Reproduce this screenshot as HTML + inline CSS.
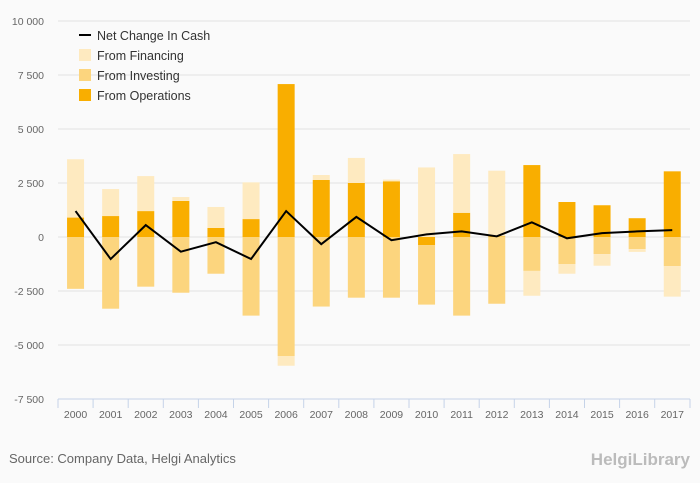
<!DOCTYPE html>
<html><head><meta charset="utf-8"><style>
body{margin:0;background:#fafafa;font-family:"Liberation Sans",sans-serif;}
svg{display:block}
</style></head><body>
<svg width="700" height="483" id="c">
<rect width="700" height="483" fill="#fafafa"/>
<g id="grid"></g><g id="bars"></g><g id="line"></g><g id="axes"></g>
<g font-size="12.5" fill="#333">
<g><rect x="79" y="34" width="12" height="2" fill="#000"/><text x="97" y="40">Net Change In Cash</text></g>
<g><rect x="79" y="49" width="12" height="12" fill="#feeac0"/><text x="97" y="60">From Financing</text></g>
<g><rect x="79" y="69" width="12" height="12" fill="#fcd57e"/><text x="97" y="80">From Investing</text></g>
<g><rect x="79" y="89" width="12" height="12" fill="#f9ae00"/><text x="97" y="100">From Operations</text></g>
</g>
<text x="9" y="463" font-size="13" fill="#666">Source: Company Data, Helgi Analytics</text>
<text x="690" y="465" font-size="17" fill="#bbb" text-anchor="end" font-weight="bold">HelgiLibrary</text>
</svg>
<script>
const years=["2000","2001","2002","2003","2004","2005","2006","2007","2008","2009","2010","2011","2012","2013","2014","2015","2016","2017"];
const operations=[900,970,1200,1670,420,830,7080,2640,2500,2580,-380,1120,30,3330,1620,1470,870,3040];
const investing=[-2400,-3320,-2300,-2580,-1700,-3640,-5510,-3220,-2810,-2810,-2750,-3640,-3090,-1570,-1250,-790,-560,-1350];
const financing=[2700,1250,1620,180,970,1700,-450,230,1160,80,3220,2720,3040,-1150,-450,-540,-130,-1410];
const netChange=[1200,-1020,550,-680,-240,-1020,1200,-330,930,-150,120,260,30,680,-60,180,260,320];
const yTicks=[-7500,-5000,-2500,0,2500,5000,7500,10000];
const yTickLabels=["-7 500","-5 000","-2 500","0","2 500","5 000","7 500","10 000"];
const NS="http://www.w3.org/2000/svg";
const X0=58,BW=35.1,Y0=237,K=21.6/1000;
const y=v=>Y0-v*K, xc=i=>X0+BW*(i+0.5);
function mk(t,a,p){const e=document.createElementNS(NS,t);for(const k in a)e.setAttribute(k,a[k]);p.appendChild(e);return e;}
const grid=document.getElementById('grid'),bars=document.getElementById('bars'),lineG=document.getElementById('line'),axes=document.getElementById('axes');
yTicks.forEach((t,i)=>{
 if(t>-7500){const l=mk('line',{x1:X0,x2:690,y1:y(t),y2:y(t),stroke:'#e2e2e2','stroke-width':1},grid);
 
 }
 const tx=mk('text',{x:44,y:y(t)+4,'font-size':10.5,fill:'#666','text-anchor':'end'},axes);tx.textContent=yTickLabels[i];
 
 
});
const series=[["operations",operations,"#f9ae00"],["investing",investing,"#fcd57e"],["financing",financing,"#feeac0"]];
years.forEach((yr,i)=>{
 let pos=0,neg=0;
 series.forEach(([nm,arr,col])=>{
  const v=arr[i];let a,b;
  if(v>=0){a=pos;b=pos+v;pos=b;}else{a=neg;b=neg+v;neg=b;}
  const r=mk('rect',{x:xc(i)-8.5,width:17,y:Math.min(y(a),y(b)),height:Math.abs(y(a)-y(b)),fill:col},bars);
  
  
 });
 const tx=mk('text',{x:xc(i),y:418,'font-size':10.5,fill:'#666','text-anchor':'middle'},axes);tx.textContent=yr;
 
 
 mk('line',{x1:X0+BW*i,x2:X0+BW*i,y1:399,y2:408,stroke:'#c5d3e8'},axes);
});
mk('line',{x1:690,x2:690,y1:399,y2:408,stroke:'#c5d3e8'},axes);
const ax=mk('line',{x1:X0,x2:690,y1:399,y2:399,stroke:'#c5d3e8'},axes);


const pl=mk('polyline',{points:netChange.map((v,i)=>xc(i)+','+y(v)).join(' '),fill:'none',stroke:'#000','stroke-width':2},lineG);


</script>
</body></html>
